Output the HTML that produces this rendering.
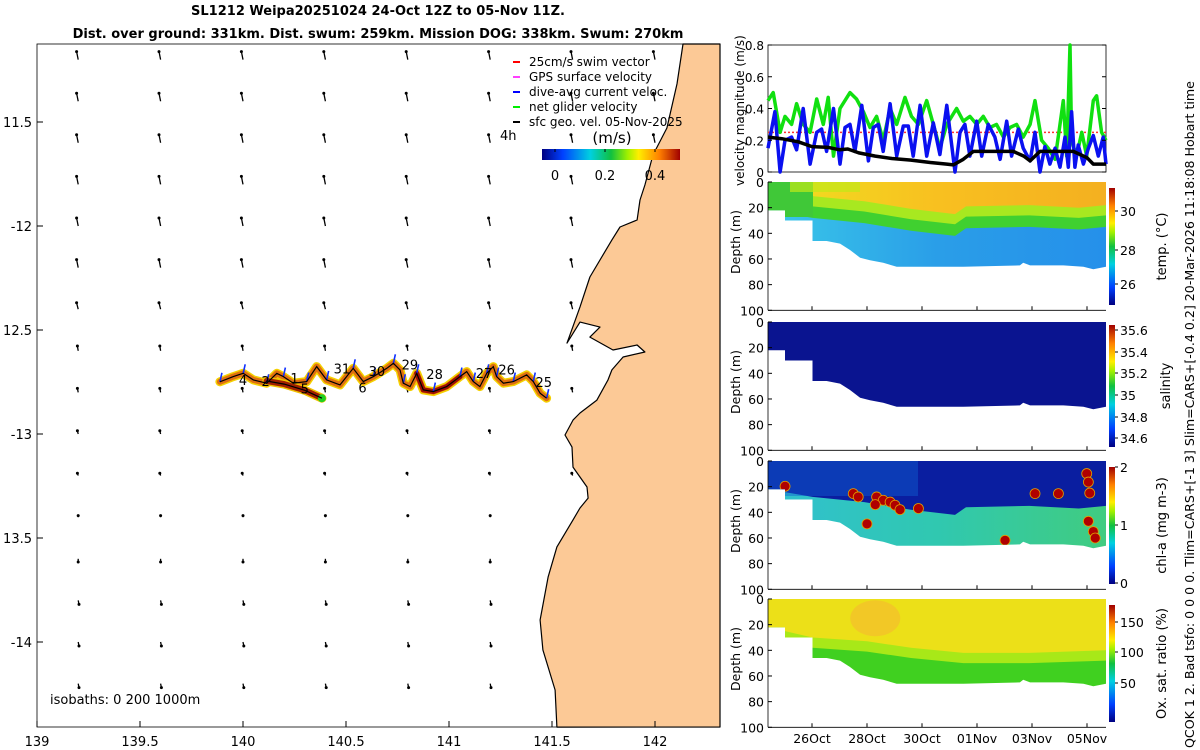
<!DOCTYPE html>
<html><head><meta charset="utf-8">
<style>
html,body{margin:0;padding:0;background:#fff;}
svg{display:block;font-family:"DejaVu Sans","Liberation Sans",sans-serif;}
</style></head>
<body>
<svg id="fig" width="1200" height="750" viewBox="0 0 1200 750" xmlns="http://www.w3.org/2000/svg">
<defs>
<linearGradient id="jetH" x1="0" y1="0" x2="1" y2="0">
<stop offset="0" stop-color="#000080"/><stop offset="0.15" stop-color="#0040ff"/><stop offset="0.35" stop-color="#00d0e0"/><stop offset="0.5" stop-color="#10c040"/><stop offset="0.62" stop-color="#a0f000"/><stop offset="0.7" stop-color="#ffee00"/><stop offset="0.85" stop-color="#ff8000"/><stop offset="1" stop-color="#a00000"/>
</linearGradient>
<linearGradient id="jetV" x1="0" y1="1" x2="0" y2="0">
<stop offset="0" stop-color="#000080"/><stop offset="0.15" stop-color="#0040ff"/><stop offset="0.35" stop-color="#00d0e0"/><stop offset="0.5" stop-color="#10c040"/><stop offset="0.62" stop-color="#a0f000"/><stop offset="0.7" stop-color="#ffee00"/><stop offset="0.85" stop-color="#ff8000"/><stop offset="1" stop-color="#a00000"/>
</linearGradient>
<linearGradient id="tempDeep" x1="0" y1="0" x2="1" y2="0"><stop offset="0" stop-color="#3ac8e8"/><stop offset="0.5" stop-color="#2a9ee8"/><stop offset="1" stop-color="#2590ea"/></linearGradient>
<linearGradient id="tempTop" x1="0" y1="0" x2="1" y2="0"><stop offset="0" stop-color="#f0e020"/><stop offset="0.5" stop-color="#f8c020"/><stop offset="1" stop-color="#f4b020"/></linearGradient>
<linearGradient id="chlDeep" x1="0" y1="0" x2="1" y2="0"><stop offset="0" stop-color="#30c0d0"/><stop offset="0.5" stop-color="#30c8b0"/><stop offset="1" stop-color="#40cc80"/></linearGradient>
</defs>
<g id="map"></g>
<g id="vel"></g>
<g id="sections"></g>
<text x="378" y="15" text-anchor="middle" font-size="13" font-weight="bold">SL1212 Weipa20251024 24-Oct 12Z to 05-Nov 11Z.</text>
<text x="378" y="38" text-anchor="middle" font-size="13" font-weight="bold">Dist. over ground: 331km. Dist. swum: 259km. Mission DOG: 338km. Swum: 270km</text>
<text transform="translate(1194,748) rotate(-90)" font-size="12.6">QCOK 1  2. Bad tsfo: 0  0  0  0. Tlim=CARS+[-1 3] Slim=CARS+[-0.4 0.2] 20-Mar-2026 11:18:08 Hobart time</text>
</svg>
<script>
// ---------- data ----------
const gridLon=[139.2,139.6,140.0,140.4,140.8,141.2,141.6,142.0];
const gridLat=[-11.2,-11.4,-11.6,-11.8,-12.0,-12.2,-12.4,-12.6,-12.8,-13.0,-13.2,-13.4,-13.6,-13.8,-14.0,-14.2];
const rowU=[-0.02,-0.02,-0.02,-0.02,-0.02,-0.02,-0.02,-0.01,-0.01,-0.01,-0.01,0.0,0.0,0.01,0.01,0.01];
const rowV=[0.1,0.1,0.1,0.1,0.1,0.1,0.08,0.06,0.05,0.04,0.03,0.02,-0.04,-0.05,-0.05,-0.05];
const coastLon=[142.136,142.107,142.058,141.990,141.951,141.927,141.913,141.830,141.791,141.684,141.636,141.573,141.636,141.733,141.684,141.796,141.913,141.951,141.845,141.791,141.772,141.718,141.636,141.602,141.563,141.597,141.602,141.670,141.675,141.636,141.602,141.524,141.481,141.442,141.456,141.515,141.524];
const coastLat=[-11.125,-11.317,-11.529,-11.659,-11.803,-11.875,-11.971,-12.005,-12.067,-12.245,-12.389,-12.563,-12.462,-12.486,-12.534,-12.596,-12.572,-12.606,-12.630,-12.692,-12.740,-12.837,-12.899,-12.933,-13.005,-13.063,-13.159,-13.255,-13.308,-13.356,-13.413,-13.543,-13.688,-13.894,-14.038,-14.231,-14.409];
const trackLon=[139.888,139.953,140.001,140.050,140.115,140.164,140.196,140.244,140.309,140.358,140.406,140.471,140.535,140.584,140.633,140.698,140.730,140.762,140.778,140.811,140.843,140.875,140.924,140.989,141.053,141.086,141.118,141.150,141.183,141.215,141.231,141.264,141.312,141.377,141.409,141.442,141.474];
const trackLat=[-12.749,-12.724,-12.708,-12.740,-12.756,-12.708,-12.724,-12.756,-12.748,-12.676,-12.740,-12.764,-12.684,-12.748,-12.724,-12.684,-12.660,-12.692,-12.756,-12.772,-12.708,-12.788,-12.796,-12.772,-12.724,-12.700,-12.748,-12.772,-12.708,-12.676,-12.724,-12.756,-12.748,-12.716,-12.748,-12.804,-12.828];
const loopLon=[140.115,140.20,140.30,140.383];
const loopLat=[-12.745,-12.76,-12.79,-12.828];
const dayLabels=["4","2","1","5","31","30","6","29","28","27","26","25"];
const dayLabLon=[140.0,140.11,140.25,140.30,140.48,140.65,140.58,140.81,140.93,141.17,141.28,141.46];
const dayLabLat=[-12.765,-12.77,-12.755,-12.805,-12.71,-12.72,-12.80,-12.69,-12.735,-12.73,-12.715,-12.775];

const blueT=[0.40,0.65,0.84,1.02,1.26,1.44,1.68,1.93,2.17,2.35,2.53,2.78,3.02,3.20,3.38,3.56,3.81,4.05,4.23,4.41,4.59,4.84,5.08,5.32,5.50,5.68,5.93,6.17,6.41,6.65,6.90,7.20,7.38,7.56,7.74,7.99,8.17,8.41,8.65,8.84,9.08,9.26,9.50,9.68,9.93,10.11,10.29,10.47,10.65,10.84,11.02,11.20,11.32,11.44,11.56,11.68,11.87,12.05,12.23,12.41,12.59,12.69];
const blueV=[0.15,0.38,0.0,0.2,0.22,0.14,0.4,0.05,0.25,0.27,0.13,0.4,0.05,0.28,0.3,0.13,0.42,0.07,0.28,0.3,0.13,0.43,0.1,0.29,0.29,0.1,0.42,0.1,0.31,0.11,0.42,0.0,0.25,0.3,0.1,0.32,0.1,0.3,0.22,0.08,0.32,0.1,0.27,0.15,0.07,0.25,0.0,0.16,0.05,0.15,0.03,0.22,0.03,0.38,0.03,0.17,0.05,0.15,0.23,0.1,0.22,0.05];
const greenT=[0.40,0.59,0.84,1.02,1.26,1.44,1.68,1.93,2.17,2.41,2.59,2.78,3.02,3.38,3.62,3.87,4.11,4.35,4.59,4.84,5.08,5.38,5.62,5.87,6.17,6.41,6.65,6.90,7.26,7.50,7.74,7.99,8.23,8.47,8.71,8.96,9.20,9.44,9.68,9.93,10.11,10.35,10.59,10.84,11.02,11.14,11.26,11.38,11.44,11.62,11.81,11.99,12.23,12.35,12.53,12.69];
const greenV=[0.45,0.5,0.25,0.35,0.3,0.43,0.3,0.25,0.46,0.3,0.47,0.1,0.4,0.5,0.46,0.38,0.28,0.35,0.2,0.4,0.3,0.47,0.35,0.3,0.45,0.3,0.15,0.3,0.4,0.32,0.35,0.3,0.35,0.28,0.3,0.22,0.28,0.3,0.22,0.3,0.45,0.2,0.15,0.08,0.3,0.45,0.1,0.8,0.2,0.1,0.25,0.1,0.45,0.48,0.25,0.2];
const blackT=[0.4,0.9,1.5,2.0,2.6,3.0,3.3,3.7,4.3,4.9,5.6,6.3,6.9,7.14,7.5,7.87,9.32,9.7,9.93,10.29,11.5,12.0,12.23,12.69];
const blackV=[0.22,0.21,0.19,0.16,0.155,0.14,0.145,0.12,0.1,0.085,0.075,0.06,0.05,0.045,0.08,0.13,0.13,0.1,0.07,0.13,0.13,0.09,0.05,0.05];
const swimV=0.25;
const velTicks=[0,0.2,0.4,0.6,0.8];

const profT=[0.41,1.02,1.02,2.02,2.02,2.53,3.02,3.38,3.75,4.11,4.59,5.08,6.29,7.5,9.56,9.68,9.93,11.14,11.87,12.23,12.69];
const profD=[22,22,30,30,46,46,48,53,59,61,63,66,66,66,65,63,65,65,66,68,66];
const thermoT=[0.41,2.02,3.9,5.6,7.2,7.6,9.9,11.7,12.69];
const thermoD=[22,28,32,38,42,36,35,37,35];
const oxyT=[0.41,2.02,4.0,5.6,7.5,9.9,12.69];
const oxyD=[22,30,33,38,42,42,40];
const chlT=[1.02,3.5,3.68,4.35,4.59,4.84,5.02,5.2,5.87,11.99,12.05,12.1,12.05,12.23,12.3,10.11,10.96,9.02,4.3,4.0];
const chlD=[19.7,25.4,28,28,30.6,32,34.5,37.9,37,9.8,16.4,25,47,55,60,25.4,25.4,61.8,34,49];
const dateTicks=["26Oct","28Oct","30Oct","01Nov","03Nov","05Nov"];
const dateTickDays=[2,4,6,8,10,12];
const depthTicks=[0,20,40,60,80,100];
const mapLonTicks=[139,139.5,140,140.5,141,141.5,142];
const mapLatTicks=[-11.5,-12,-12.5,-13,-13.5,-14];
const mapLatLabels=["11.5","-12","12.5","-13","13.5","-14"];

// ---------- scales ----------
const NS="http://www.w3.org/2000/svg";
const lonX=l=>37+(l-139)*206;
const latY=l=>122+(-11.5-l)*208;
const tX=d=>812+(d-2)*27.5;
const vY=v=>172-v*(127/0.8);
function mk(tag,attrs,parent){const e=document.createElementNS(NS,tag);for(const k in attrs)e.setAttribute(k,attrs[k]);parent.appendChild(e);return e;}

// ---------- map ----------
const map=document.getElementById('map');
let land="M720,44 ";
for(let i=0;i<coastLon.length;i++)land+="L"+lonX(coastLon[i]).toFixed(1)+","+latY(coastLat[i]).toFixed(1)+" ";
land+="L720,727 Z";
const landEl=mk('path',{d:land,fill:'#fcc996',stroke:'#000','stroke-width':1.2,'stroke-linejoin':'round'},map);


function coastXAt(y){for(let i=0;i<coastLat.length-1;i++){const y1=latY(coastLat[i]),y2=latY(coastLat[i+1]);if((y>=y1&&y<=y2)){const f=(y-y1)/((y2-y1)||1);return lonX(coastLon[i])+f*(lonX(coastLon[i+1])-lonX(coastLon[i]));}}return 720;}
for(let r=0;r<gridLat.length;r++){for(let c=0;c<gridLon.length;c++){
  const x=lonX(gridLon[c]),y=latY(gridLat[r]);
  if(x>coastXAt(y)-4)continue;
  const x2=x+rowU[r]*80,y2=y-rowV[r]*80;
  const a=mk('line',{x1:x,y1:y,x2:x2,y2:y2,stroke:'#000','stroke-width':1.3},map);
  
  
  mk('circle',{cx:x2,cy:y2,r:1.5,fill:'#000'},map);
}}
function pts(lons,lats){return lons.map((l,i)=>lonX(l).toFixed(1)+","+latY(lats[i]).toFixed(1)).join(" ");}
const tp=pts(trackLon,trackLat), lp=pts(loopLon,loopLat);
[[tp,9,'#f5d000'],[tp,6,'#e07010'],[lp,9,'#f0c000'],[lp,6,'#a02000']].forEach(s=>{const e=mk('polyline',{points:s[0],fill:'none',stroke:s[2],'stroke-width':s[1],'stroke-linejoin':'round','stroke-linecap':'round'},map);

});
const redSeg=mk('polyline',{points:pts(trackLon.slice(20,25),trackLat.slice(20,25)),fill:'none',stroke:'#a01000','stroke-width':5,'stroke-linecap':'round'},map);


mk('circle',{cx:lonX(140.383),cy:latY(-12.828),r:4,fill:'#20d020'},map);
for(let i=0;i<trackLon.length;i+=2){const x=lonX(trackLon[i]),y=latY(trackLat[i]);
  const b=mk('line',{x1:x,y1:y,x2:x+2,y2:y-9,stroke:'#1030ff','stroke-width':1.6},map);
  
  }
for(const p of [tp,lp]){const e=mk('polyline',{points:p,fill:'none',stroke:'#000','stroke-width':1.2},map);

}
dayLabels.forEach((s,i)=>{const t=mk('text',{x:lonX(dayLabLon[i]),y:latY(dayLabLat[i]),'font-size':13,'text-anchor':'middle'},map);t.textContent=s;

});
const mbox=mk('rect',{x:37,y:44,width:683,height:683,fill:'none',stroke:'#000','stroke-width':0.8},map);


mapLonTicks.forEach(l=>{const x=lonX(l);mk('line',{x1:x,y1:727,x2:x,y2:721,stroke:'#000'},map);
const t=mk('text',{x:x,y:746,'font-size':13,'text-anchor':'middle'},map);t.textContent=String(l);

});
mapLatTicks.forEach((l,i)=>{const y=latY(l);mk('line',{x1:37,y1:y,x2:43,y2:y,stroke:'#000'},map);
const t=mk('text',{x:32,y:y+5,'font-size':13,'text-anchor':'end'},map);t.textContent=mapLatLabels[i];

});
const iso=mk('text',{x:50,y:704,'font-size':13},map);iso.textContent="isobaths: 0   200   1000m";iso.setAttribute('xml:space','preserve');


const h4=mk('text',{x:500,y:140,'font-size':13},map);h4.textContent="4h";


const legTxt=["25cm/s swim vector","GPS surface velocity","dive-avg current veloc.","net glider velocity","sfc geo. vel. 05-Nov-2025"];
const legCol=["#ff0000","#ff40ff","#0000ff","#00ee00","#000000"];
legTxt.forEach((s,i)=>{const y=66+i*15;mk('line',{x1:513,y1:y-4,x2:520,y2:y-4,stroke:legCol[i],'stroke-width':2},map);
const t=mk('text',{x:529,y:y,'font-size':12},map);t.textContent=s;

});
const ms=mk('text',{x:612,y:143,'font-size':15,'text-anchor':'middle'},map);ms.textContent="(m/s)";


const cb=mk('rect',{x:542,y:149,width:138,height:11,fill:'url(#jetH)'},map);


[["0",555],["0.2",605],["0.4",655]].forEach(a=>{mk('line',{x1:a[1],y1:149,x2:a[1],y2:152,stroke:'#000'},map);const t=mk('text',{x:a[1],y:180,'font-size':13,'text-anchor':'middle'},map);t.textContent=a[0];

});

// ---------- velocity panel ----------
const vel=document.getElementById('vel');
mk('rect',{x:768,y:45,width:338,height:127,fill:'#fff',stroke:'#000','stroke-width':0.8},vel);
const sw=mk('line',{x1:768,y1:vY(swimV),x2:1106,y2:vY(swimV),stroke:'#ff3030','stroke-width':1.5,'stroke-dasharray':'2,2'},vel);


function line(T,V,col,w,name){const e=mk('polyline',{points:T.map((t,i)=>tX(t).toFixed(1)+","+vY(V[i]).toFixed(1)).join(" "),fill:'none',stroke:col,'stroke-width':w,'stroke-linejoin':'round'},vel);

}
line(greenT,greenV,'#10e010',3.5,'net-glider-velocity-line');
line(blueT,blueV,'#0a10f0',3.5,'dive-avg-current-line');
line(blackT,blackV,'#000',3.5,'surface-geo-velocity-line');
velTicks.forEach(v=>{const y=vY(v);mk('line',{x1:768,y1:y,x2:772,y2:y,stroke:'#000'},vel);mk('line',{x1:1106,y1:y,x2:1102,y2:y,stroke:'#000'},vel);
const t=mk('text',{x:764,y:y+5,'font-size':12,'text-anchor':'end'},vel);t.textContent=String(v);

});
const vl=mk('text',{transform:'translate(744,186) rotate(-90)','font-size':12},vel);vl.textContent="velocity magnitude (m/s)";



// ---------- section panels ----------
const sec=document.getElementById('sections');
const panels=[{y0:182,name:'temp'},{y0:322,name:'salinity'},{y0:461,name:'chl'},{y0:599,name:'oxy'}];
const cbars=[
 {lab:"temp. (°C)",ticks:["30","28","26"],ty:[211,250,284],top:188,bot:305},
 {lab:"salinity",ticks:["35.6","35.4","35.2","35","34.8","34.6"],ty:[330,352,373,395,417,438],top:325,bot:447},
 {lab:"chl-a (mg m-3)",ticks:["2","1","0"],ty:[467,525,583],top:467,bot:584},
 {lab:"Ox. sat. ratio (%)",ticks:["150","100","50"],ty:[622,652,683],top:605,bot:722}];
function bandPath(y0,T,D,closeBottom){const dY=d=>y0+d*1.283;let p="M"+tX(T[0])+","+dY(D[0]);for(let i=1;i<T.length;i++)p+=" L"+tX(T[i]).toFixed(1)+","+dY(D[i]).toFixed(1);
return p+" L1106,"+(closeBottom?dY(100):y0)+" L768,"+(closeBottom?dY(100):y0)+" Z";}
panels.forEach((P,k)=>{
  const g=mk('g',{},sec);
  
  
  const dY=d=>P.y0+d*1.283;
  const cid='clip'+k;
  const cp=mk('clipPath',{id:cid},g);
  let p="M768,"+P.y0+" L1106,"+P.y0+" L1106,"+dY(profD[profD.length-1]);
  for(let i=profT.length-1;i>=0;i--)p+=" L"+tX(profT[i]).toFixed(1)+","+dY(profD[i]).toFixed(1);
  p+=" L768,"+dY(profD[0])+" Z";
  mk('path',{d:p},cp);
  const c=mk('g',{'clip-path':'url(#'+cid+')'},g);
  if(P.name==='temp'){
    mk('rect',{x:768,y:P.y0,width:338,height:130,fill:'url(#tempDeep)'},c);
    mk('path',{d:bandPath(P.y0,thermoT,thermoD,false),fill:'#40d030'},c);
    mk('path',{d:bandPath(P.y0,thermoT,thermoD.map(d=>d-9),false),fill:'#a8e820'},c);
    mk('path',{d:bandPath(P.y0,thermoT,thermoD.map(d=>d-17),false),fill:'url(#tempTop)'},c);
    mk('rect',{x:768,y:P.y0,width:45,height:35,fill:'#40c838'},c);
    mk('rect',{x:790,y:P.y0,width:70,height:10,fill:'#c0e818',opacity:0.7},c);
  } else if(P.name==='salinity'){
    mk('rect',{x:768,y:P.y0,width:338,height:130,fill:'#0a1490'},c);
  } else if(P.name==='chl'){
    mk('rect',{x:768,y:P.y0,width:338,height:130,fill:'url(#chlDeep)'},c);
    mk('path',{d:bandPath(P.y0,thermoT,thermoD,false),fill:'#0a1ea0'},c);
    mk('rect',{x:768,y:P.y0,width:150,height:35,fill:'#1060d0',opacity:0.45},c);
    chlT.forEach((t,i)=>{const e=mk('circle',{cx:tX(t),cy:dY(chlD[i]),r:5,fill:'#b00000',stroke:'#e0a000','stroke-width':0.8},c);
      
      });
  } else {
    mk('rect',{x:768,y:P.y0,width:338,height:130,fill:'#40d020'},c);
    mk('path',{d:bandPath(P.y0,oxyT,oxyD.map(d=>d+8),false),fill:'#a8e818'},c);
    mk('path',{d:bandPath(P.y0,oxyT,oxyD,false),fill:'#ece018'},c);
    mk('ellipse',{cx:tX(4.3),cy:dY(15),rx:25,ry:18,fill:'#f6b830',opacity:0.6},c);
  }
  mk('line',{x1:768,y1:P.y0,x2:768,y2:dY(100),stroke:'#000','stroke-width':0.8},g);
  mk('line',{x1:768,y1:dY(100),x2:1106,y2:dY(100),stroke:'#000','stroke-width':0.8},g);
  depthTicks.forEach(d=>{const y=dY(d);mk('line',{x1:768,y1:y,x2:772,y2:y,stroke:'#000'},g);
    const t=mk('text',{x:764,y:y+5,'font-size':12.5,'text-anchor':'end'},g);t.textContent=String(d);
    
    });
  dateTickDays.forEach(d=>mk('line',{x1:tX(d),y1:dY(100),x2:tX(d),y2:dY(100)-4,stroke:'#000'},g));
  const yl=mk('text',{transform:'translate(740,'+(P.y0+92)+') rotate(-90)','font-size':12.5},g);yl.textContent="Depth (m)";
  
  
  const C=cbars[k];
  const r=mk('rect',{x:1109,y:C.top,width:6,height:C.bot-C.top,fill:'url(#jetV)'},g);
  
  
  C.ticks.forEach((s,i)=>{mk('line',{x1:1115,y1:C.ty[i],x2:1118,y2:C.ty[i],stroke:'#000'},g);
    const t=mk('text',{x:1120,y:C.ty[i]+5,'font-size':12.5},g);t.textContent=s;
    
    });
  const cl=mk('text',{transform:'translate('+(k===1?1170:1166)+','+((C.top+C.bot)/2)+') rotate(-90)','font-size':13,'text-anchor':'middle'},g);cl.textContent=C.lab;
  
  
});
dateTicks.forEach((s,i)=>{const t=mk('text',{x:tX(dateTickDays[i]),y:743,'font-size':12.5,'text-anchor':'middle'},sec);t.textContent=s;

});
</script>
</body></html>
